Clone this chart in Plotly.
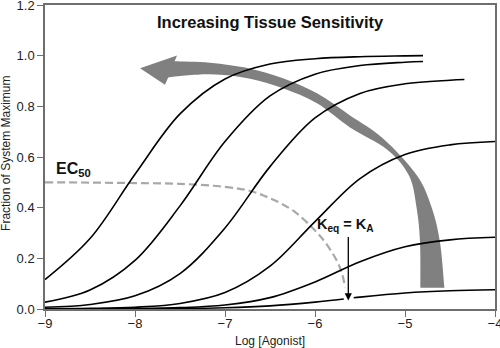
import plotly.graph_objects as go

# ---- data ----
x_c12 = [-9, -8.5, -8, -7.5, -7, -6.5, -6, -5.5, -5, -4.8]
curve1 = [0.116, 0.278, 0.532, 0.770, 0.908, 0.967, 0.988, 0.996, 0.999, 1.0]
curve2 = [0.027, 0.075, 0.192, 0.407, 0.661, 0.841, 0.927, 0.961, 0.974, 0.977]

x_c3 = [-9, -8.5, -8, -7.5, -7, -6.5, -6, -5.5, -5, -4.5, -4.34]
curve3 = [0.007, 0.018, 0.052, 0.140, 0.320, 0.562, 0.754, 0.851, 0.889, 0.903, 0.906]

x_c45 = [-9, -8.5, -8, -7.5, -7, -6.5, -6, -5.5, -5, -4.5, -4]
curve4 = [0.0007, 0.0023, 0.0071, 0.022, 0.065, 0.169, 0.345, 0.515, 0.610, 0.648, 0.661]
curve5 = [0.0002, 0.0005, 0.0017, 0.0053, 0.016, 0.045, 0.107, 0.187, 0.246, 0.273, 0.283]

x_c6 = [-9, -8.5, -8, -7.5, -7, -6.5, -6, -5.68, None, -5.57, -5.5, -5, -4.5, -4]
curve6 = [0.0001, 0.0002, 0.0007, 0.0018, 0.0049, 0.0125, 0.0273, 0.0398, None, 0.0442, 0.047, 0.0632, 0.072, 0.0758]

x_ec50 = [-9, -8.5, -8, -7.5, -7, -6.72, -6.5, -6.25, -6.0, -5.87, -5.75, -5.7, -5.665]
ec50 = [0.500, 0.499, 0.497, 0.494, 0.482, 0.466, 0.437, 0.39, 0.31, 0.255, 0.185, 0.14, 0.085]

# big grey curved arrow (data units): head triangle and the two edges of the shaft
head_x = [-7.944, -7.533, -7.667]   # tip, upper corner, lower corner
head_y = [0.950, 1.001, 0.8851]
outer_x = [-7.560, -7.167, -6.722, -6.356, -5.978, -5.611, -5.244, -4.867, -4.700, -4.611, -4.561]
outer_y = [0.9775, 0.9716, 0.9487, 0.9104, 0.8512, 0.7643, 0.6735, 0.5274, 0.3972, 0.2629, 0.0841]
inner_x = [-4.828, -4.833, -4.870, -4.956, -5.200, -5.611, -5.978, -6.356, -6.722, -7.167, -7.631]
inner_y = [0.0841, 0.2629, 0.3972, 0.5274, 0.6300, 0.7169, 0.8117, 0.8709, 0.9092, 0.9262, 0.9143]

x_ticks = [-9, -8, -7, -6, -5, -4]
y_ticks = [0, 0.2, 0.4, 0.6, 0.8, 1.0, 1.2]

FONT = "Arial, Liberation Sans, Helvetica, sans-serif"


def smooth_path(xs, ys):
    """Cubic Bezier segments (Catmull-Rom tangents) through the given outline points."""
    pts = list(zip(xs, ys))
    n = len(pts)
    out = []
    for i in range(n - 1):
        p0 = pts[i - 1] if i > 0 else pts[i]
        p1 = pts[i]
        p2 = pts[i + 1]
        p3 = pts[i + 2] if i + 2 < n else pts[i + 1]
        c1 = (p1[0] + (p2[0] - p0[0]) / 6, p1[1] + (p2[1] - p0[1]) / 6)
        c2 = (p2[0] - (p3[0] - p1[0]) / 6, p2[1] - (p3[1] - p1[1]) / 6)
        out.append(f"C{c1[0]:.4f},{c1[1]:.4f} {c2[0]:.4f},{c2[1]:.4f} {p2[0]:.4f},{p2[1]:.4f}")
    return " ".join(out)


arrow_path = (
    f"M{head_x[0]},{head_y[0]} L{head_x[1]},{head_y[1]} L{outer_x[0]},{outer_y[0]} "
    + smooth_path(outer_x, outer_y)
    + f" L{inner_x[0]},{inner_y[0]} "
    + smooth_path(inner_x, inner_y)
    + f" L{head_x[2]},{head_y[2]} Z"
)

fig = go.Figure()

fig.add_trace(go.Scatter(x=x_ec50, y=ec50, mode="lines",
                         line=dict(color="#a8a8a8", width=2.2, dash="8px,4px", shape="spline"),
                         hoverinfo="skip"))

for xs, ys in [(x_c12, curve1), (x_c12, curve2), (x_c3, curve3),
               (x_c45, curve4), (x_c45, curve5), (x_c6, curve6)]:
    fig.add_trace(go.Scatter(x=xs, y=ys, mode="lines", connectgaps=False,
                             line=dict(color="black", width=1.6, shape="spline"),
                             hoverinfo="skip"))

fig.add_shape(type="path", path=arrow_path, xref="x", yref="y", layer="below",
              fillcolor="#808080", line=dict(width=0))

axis_common = dict(showline=True, linecolor="#6e6e6e", linewidth=1.5, mirror=True,
                   ticks="outside", ticklen=6, tickwidth=1.2, tickcolor="#6e6e6e",
                   showgrid=False, zeroline=False, ticklabeloverflow="allow",
                   automargin=False,
                   tickfont=dict(family=FONT, size=13, color="#222"))

fig.update_layout(
    width=500, height=348,
    margin=dict(l=45, r=5, t=5, b=39),
    plot_bgcolor="white", paper_bgcolor="white",
    showlegend=False,
    xaxis=dict(range=[-9, -4], tickvals=x_ticks, **axis_common),
    yaxis=dict(range=[0, 1.2], tickvals=y_ticks, tickformat=".1f", **axis_common),
    annotations=[
        dict(text="<b>Increasing Tissue Sensitivity</b>", x=-6.5, y=1.133, xref="x", yref="y",
             showarrow=False, font=dict(family=FONT, size=16.5, color="#111")),
        dict(text="<b>EC<sub>50</sub></b>", x=-8.9, y=0.552, xref="x", yref="y",
             xanchor="left", yanchor="middle", showarrow=False,
             font=dict(family=FONT, size=16, color="#111")),
        dict(text="<b>K<sub>eq</sub> = K<sub>A</sub></b>", x=-5.656, y=0.33, xref="x", yref="y",
             xanchor="center", yanchor="middle",
             showarrow=False, font=dict(family=FONT, size=14.5, color="#111")),
        dict(text="", x=-5.63, y=0.034, ax=-5.63, ay=0.29, xref="x", yref="y",
             axref="x", ayref="y", showarrow=True, arrowhead=2, arrowsize=1.1,
             arrowwidth=1.3, arrowcolor="black", standoff=0, startstandoff=0),
        dict(text="Log [Agonist]", x=0.5, y=-0.105, xref="paper", yref="paper",
             xanchor="center", yanchor="middle",
             showarrow=False, font=dict(family=FONT, size=12, color="#222")),
        dict(text="Fraction of System Maximum", x=-0.087, y=0.513, xref="paper", yref="paper",
             xanchor="center", yanchor="middle",
             textangle=-90, showarrow=False, font=dict(family=FONT, size=12, color="#222")),
    ],
)

try:
    fig.update_xaxes(ticklabelstandoff=-4)
except Exception:
    pass

fig.write_html("out.html")
